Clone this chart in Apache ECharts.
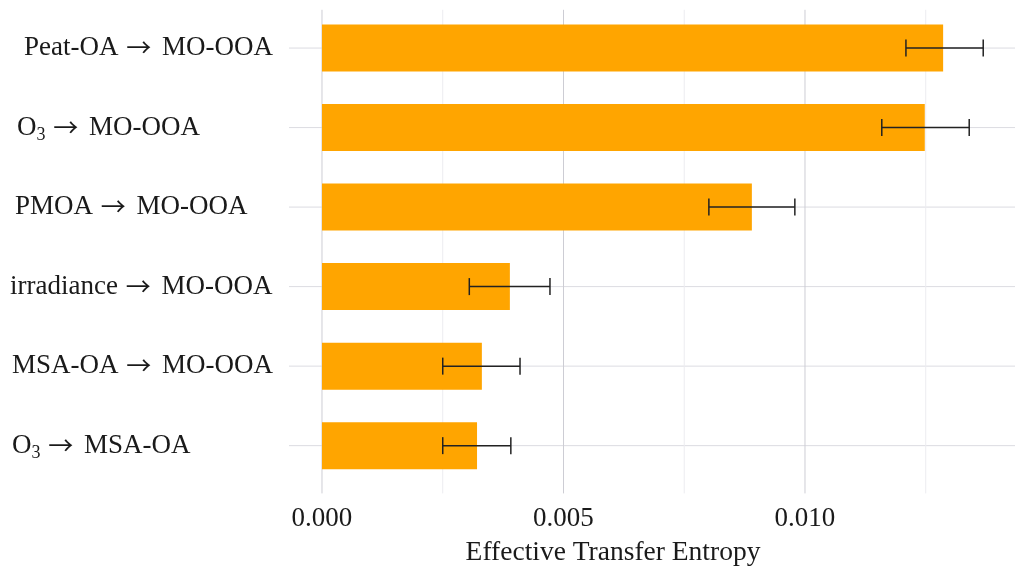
<!DOCTYPE html>
<html><head><meta charset="utf-8">
<script src="https://cdn.jsdelivr.net/npm/echarts@6/dist/echarts.min.js"></script>
<style>html,body{margin:0;padding:0;background:#fff}#c{width:1029px;height:578px}</style>
</head><body><div id="c"></div>
<script>
const categories = ['Peat-OA → MO-OOA', 'O3 → MO-OOA', 'PMOA → MO-OOA', 'irradiance → MO-OOA', 'MSA-OA → MO-OOA', 'O3 → MSA-OA'];
const values = [0.01286, 0.01248, 0.00890, 0.00389, 0.00331, 0.00321];
const errLow = [0.01209, 0.01159, 0.00801, 0.00305, 0.00250, 0.00250];
const errHigh = [0.01369, 0.01340, 0.00979, 0.00472, 0.00410, 0.00391];
const xTicks = [0, 0.005, 0.010];
const xMinorTicks = [0.0025, 0.0075, 0.0125];
const xMin = -0.000683, xMax = 0.014348;

const FONT = '"Liberation Serif", "Times New Roman", serif';
const chart = echarts.init(document.getElementById('c'), null, {renderer: 'canvas'});

// label indents (style only)
const indent = {'Peat-OA → MO-OOA': 14, 'O3 → MO-OOA': 7, 'PMOA → MO-OOA': 5, 'irradiance → MO-OOA': 0, 'MSA-OA → MO-OOA': 2, 'O3 → MSA-OA': 2};

function fmtLabel(s) {
  const pad = '{sp' + (indent[s] || 0) + '|}';
  const parts = s.split(' → ');
  let left = parts[0];
  if (left === 'O3') left = '{n|O}{s|3}';
  else left = '{n|' + left + '}';
  return pad + left + '{n| }{a|→}{n| ' + parts[1] + '}';
}
const rich = {
  n: {fontFamily: FONT, fontSize: 27, color: '#1a1a1a'},
  s: {fontFamily: FONT, fontSize: 18, color: '#1a1a1a', padding: [15, 0, 0, 0]},
  a: {fontFamily: '"Noto Sans CJK JP"', fontSize: 25, color: '#1a1a1a', padding: [0, 4, 1, 1]}
};
[0, 2, 5, 7, 14].forEach(w => { rich['sp' + w] = {width: w}; });

// gridline records: [kind, value]
const gridData = [];
categories.forEach((c, i) => gridData.push([0, i]));
xMinorTicks.forEach(v => gridData.push([1, v]));
xTicks.forEach(v => gridData.push([2, v]));

chart.setOption({
  animation: false,
  backgroundColor: '#fff',
  grid: {left: 289, right: 14, top: 8.3, bottom: 92.6, containLabel: false},
  xAxis: {
    type: 'value', min: xMin, max: xMax,
    axisLine: {show: false}, axisTick: {show: false},
    splitLine: {show: false},
    axisLabel: {
      customValues: xTicks,
      formatter: v => v.toFixed(3),
      fontFamily: FONT, fontSize: 27, color: '#1a1a1a', margin: 20
    },
    name: 'Effective Transfer Entropy', nameLocation: 'middle', nameGap: 53,
    nameTextStyle: {fontFamily: FONT, fontSize: 27.5, color: '#1a1a1a', padding: [0, 78, 0, 0]}
  },
  yAxis: {
    type: 'category', data: categories, inverse: true,
    axisLine: {show: false}, axisTick: {show: false}, splitLine: {show: false},
    axisLabel: {align: 'left', margin: 279, formatter: fmtLabel, rich: rich}
  },
  series: [
    {
      type: 'custom', z: 0, silent: true,
      data: gridData,
      encode: {x: -1, y: -1},
      clip: false,
      renderItem: function (params, api) {
        const cs = params.coordSys;
        const kind = api.value(0), v = api.value(1);
        if (kind === 0) {
          const p = api.coord([0, v]);
          return {type: 'line', shape: {x1: cs.x, y1: p[1], x2: cs.x + cs.width, y2: p[1]},
                  style: {stroke: '#dcdce2', lineWidth: 1}};
        }
        const p = api.coord([v, 0]);
        return {type: 'line', shape: {x1: p[0], y1: cs.y + 1.5, x2: p[0], y2: cs.y + cs.height + 8},
                style: {stroke: kind === 2 ? '#cdcdd4' : '#ececf0', lineWidth: 1}};
      }
    },
    {
      type: 'bar', data: values, barWidth: 47, z: 2,
      itemStyle: {color: '#FFA500'}
    },
    {
      type: 'custom', z: 3,
      data: categories.map((c, i) => [i, errLow[i], errHigh[i]]),
      encode: {y: 0, x: [1, 2]},
      renderItem: function (params, api) {
        const i = api.value(0);
        const p1 = api.coord([api.value(1), i]);
        const p2 = api.coord([api.value(2), i]);
        const h = 8.5;
        const st = {stroke: '#222', lineWidth: 1.5};
        return {type: 'group', children: [
          {type: 'line', shape: {x1: p1[0], y1: p1[1], x2: p2[0], y2: p2[1]}, style: st},
          {type: 'line', shape: {x1: p1[0], y1: p1[1] - h, x2: p1[0], y2: p1[1] + h}, style: st},
          {type: 'line', shape: {x1: p2[0], y1: p2[1] - h, x2: p2[0], y2: p2[1] + h}, style: st}
        ]};
      }
    }
  ]
});
</script></body></html>
